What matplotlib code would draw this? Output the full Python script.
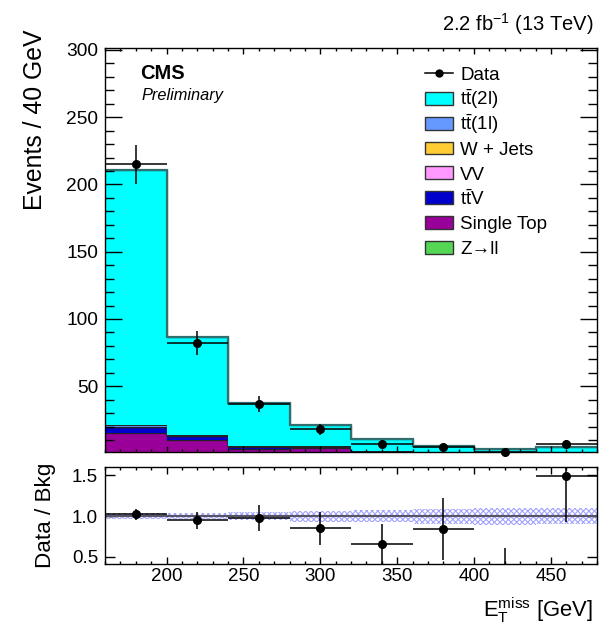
import numpy as np
import matplotlib
matplotlib.use("Agg")
import matplotlib.pyplot as plt
from matplotlib.lines import Line2D
from matplotlib.patches import Rectangle
from matplotlib.ticker import MultipleLocator

plt.rcParams['font.family'] = ['Liberation Sans', 'DejaVu Sans']
plt.rcParams['mathtext.fontset'] = 'custom'
plt.rcParams['mathtext.rm'] = 'Liberation Sans'
plt.rcParams['mathtext.it'] = 'Liberation Sans:italic'
plt.rcParams['mathtext.bf'] = 'Liberation Sans:bold'
plt.rcParams['hatch.linewidth'] = 0.8

# ---- data ----
bin_edges = [160, 200, 240, 280, 320, 360, 400, 440, 480]
zll        = [1.0, 0.5, 0.2, 0.2, 0.1, 0.1, 0.0, 0.1]
single_top = [14.0, 9.5, 3.4, 4.2, 1.2, 0.4, 0.3, 0.3]
ttv        = [4.5, 3.0, 1.5, 0.6, 0.4, 0.3, 0.2, 0.2]
vv         = [0.3, 0.2, 0.1, 0.1, 0.1, 0.0, 0.0, 0.1]
wjets      = [0.2, 0.1, 0.1, 0.1, 0.0, 0.0, 0.0, 0.0]
tt1l       = [0.8, 0.4, 0.3, 0.2, 0.1, 0.1, 0.0, 0.1]
tt2l       = [189.7, 72.8, 32.1, 15.7, 8.7, 5.0, 2.8, 3.9]
data       = [215, 82, 37, 18, 7, 5, 1, 7]
rel_unc    = [0.036, 0.04, 0.05, 0.065, 0.073, 0.09, 0.105, 0.095]

labels = ["Z\u2192ll", "Single Top", r"t$\mathrm{\bar{t}}$V", "VV", "W + Jets",
          r"t$\mathrm{\bar{t}}$(1l)", r"t$\mathrm{\bar{t}}$(2l)"]
colors = ["#55d655", "#990099", "#0000cc", "#ff99ff", "#ffcc33", "#6699ff", "#00ffff"]
components = [zll, single_top, ttv, vv, wjets, tt1l, tt2l]

edges = np.array(bin_edges, dtype=float)
centers = 0.5 * (edges[:-1] + edges[1:])
halfw = 0.5 * np.diff(edges)
data_a = np.array(data, dtype=float)

W, H = 611, 628
fig = plt.figure(figsize=(W / 100, H / 100), dpi=100)
ax = fig.add_axes([105 / W, 1 - 451.7 / H, 492 / W, 404 / H])
axr = fig.add_axes([105 / W, 1 - 564.3 / H, 492 / W, 97 / H])

def fx(px):
    return px / W

def fy(py):
    return 1 - py / H

# ---- stack ----
bottom = np.zeros(len(centers))
for vals, col in zip(components, colors):
    top = bottom + np.array(vals)
    ax.stairs(top, edges, baseline=bottom, fill=True, color=col, lw=0)
    ax.stairs(top, edges, baseline=None, color="#222222", lw=0.9)
    bottom = top
total = bottom
ax.stairs(total, edges, baseline=None, color="#2f6f6f", lw=1.6)

# data
ax.errorbar(centers, data_a, xerr=halfw, yerr=np.sqrt(data_a), fmt="o", color="black",
            ms=5.5, elinewidth=1.1, capsize=0, clip_on=False, zorder=5)

ax.set_xlim(160, 480)
ax.set_ylim(1.3, 301.7)
ax.yaxis.set_minor_locator(MultipleLocator(10))
ax.xaxis.set_major_locator(MultipleLocator(50))
ax.xaxis.set_minor_locator(MultipleLocator(10))
ax.set_yticks([50, 100, 150, 200, 250, 300])
ax.tick_params(axis="both", which="both", direction="in", top=True, right=True)
ax.tick_params(axis="y", which="major", length=12, width=1, labelsize=13.8, pad=5)
ax.tick_params(axis="y", which="minor", length=6.5, width=1)
ax.tick_params(axis="x", which="major", length=4.5, width=1, labelbottom=False)
ax.tick_params(axis="x", which="minor", length=2.5, width=1)

fig.text(fx(35), fy(30), "Events / 40 GeV", fontsize=17.8, rotation=90,
         ha="center", va="top")

fig.text(fx(140), fy(79), "CMS", fontsize=14.5, fontweight="bold", ha="left",
         va="baseline")
fig.text(fx(142), fy(100), "Preliminary", fontsize=11.8, style="italic", ha="left",
         va="baseline")
fig.text(fx(594), fy(31), r"2.2 fb$^{-1}$ (13 TeV)", fontsize=14.5, ha="right",
         va="baseline")

# ---- legend (manual, uniform rows) ----
leg_fs = 13.5
row_y = [73.3 + 24.9 * i for i in range(8)]
cap = 0.716 * leg_fs * 100 / 72
fig.add_artist(Line2D([fx(425), fx(453)], [fy(row_y[0])] * 2, color="black", lw=1.1,
                      transform=fig.transFigure))
fig.add_artist(Line2D([fx(439)], [fy(row_y[0])], color="black", marker="o", ms=5,
                      transform=fig.transFigure))
fig.text(fx(460), fy(row_y[0] + cap / 2), "Data", fontsize=leg_fs, ha="left",
         va="baseline")
for i, (lab, col) in enumerate(list(zip(labels, colors))[::-1]):
    y = row_y[i + 1]
    fig.add_artist(Rectangle((fx(425), fy(y + 6.4)), 28 / W, 12.8 / H, facecolor=col,
                             edgecolor="#333333", lw=1, transform=fig.transFigure))
    fig.text(fx(460), fy(y + cap / 2), lab, fontsize=leg_fs, ha="left", va="baseline")

# ---- ratio ----
ratio = data_a / total
rerr = np.sqrt(data_a) / total
unc = np.array(rel_unc)
lo = np.r_[1 - unc, 1 - unc[-1]]
hi = np.r_[1 + unc, 1 + unc[-1]]
axr.fill_between(edges, lo, hi, step="post", facecolor="none", edgecolor="#a4a4ff",
                 hatch="xxxxxx", lw=0)
axr.axhline(1.0, color="#555566", lw=1.5)
axr.errorbar(centers, ratio, xerr=halfw, yerr=rerr, fmt="o", color="black", ms=5.5,
             elinewidth=1.1, capsize=0, zorder=5)
axr.set_xlim(160, 480)
axr.set_ylim(0.41, 1.6)
axr.set_yticks([0.5, 1.0, 1.5])
axr.set_yticklabels(["0.5", "1.0", "1.5"])
axr.xaxis.set_major_locator(MultipleLocator(50))
axr.xaxis.set_minor_locator(MultipleLocator(10))
axr.tick_params(axis="both", which="both", direction="in", top=True, right=True)
axr.tick_params(axis="y", which="major", length=7, width=1, labelsize=13.5, pad=5)
axr.tick_params(axis="x", which="major", length=5, width=1, labelsize=13.5, pad=3)
axr.tick_params(axis="x", which="minor", length=2.5, width=1)
fig.text(fx(45), fy(515), "Data / Bkg", fontsize=16.2, rotation=90, ha="center",
         va="center")
fig.text(fx(593), fy(617), r"E$_{\mathrm{T}}^{\mathrm{miss}}$ [GeV]", fontsize=15.8,
         ha="right", va="baseline")

for a in (ax, axr):
    for s in a.spines.values():
        s.set_linewidth(1.0)

fig.savefig("out.png", dpi=100)
